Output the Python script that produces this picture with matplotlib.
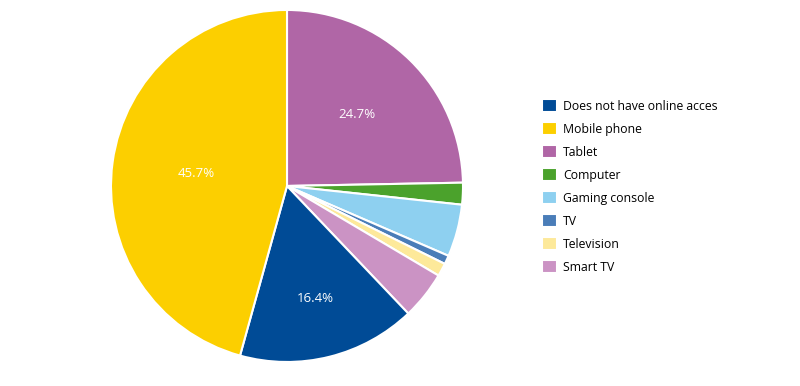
import matplotlib.pyplot as plt

# legend order
categories = ["Does not have online acces", "Mobile phone", "Tablet", "Computer",
              "Gaming console", "TV", "Television", "Smart TV"]
shares = [16.4, 45.7, 24.7, 2.0, 4.8, 0.8, 1.2, 4.4]
colors = ["#004b96", "#fccf00", "#b066a6", "#4ba22c",
          "#8ed0f0", "#4a7db8", "#fde99a", "#cb93c4"]

# clockwise from 12 o'clock
pie_order = [2, 3, 4, 5, 6, 7, 0, 1]
label_radius = {2: 0.57, 0: 0.66, 1: 0.52}

plt.rcParams['font.family'] = ['Open Sans', 'DejaVu Sans']

fig = plt.figure(figsize=(8, 3.86), dpi=100)
ax = fig.add_axes([0.13875, 0.0622, 0.44, 0.912])

vals = [shares[i] for i in pie_order]
cols = [colors[i] for i in pie_order]
wedges, texts, autotexts = ax.pie(
    vals, colors=cols, startangle=90, counterclock=False,
    autopct=lambda p: f"{p:.1f}%" if p > 10 else "", pctdistance=0.58,
    wedgeprops=dict(edgecolor="white", linewidth=1.5),
    textprops=dict(color="white", fontsize=9.5))

for k, i in enumerate(pie_order):
    if i in label_radius:
        x, y = autotexts[k].get_position()
        r = (x * x + y * y) ** 0.5
        s = label_radius[i] / r
        autotexts[k].set_position((x * s, y * s))

ax.set_xlim(-1, 1)
ax.set_ylim(-1, 1)
ax.set_aspect('equal')
ax.axis('off')

handles = [wedges[pie_order.index(i)] for i in range(len(categories))]
fig.legend(handles, categories, loc='upper left', bbox_to_anchor=(0.67, 0.76),
           frameon=False, fontsize=8.8, handlelength=1.2, handleheight=1.35,
           handletextpad=0.5, labelspacing=0.74, borderpad=0)

fig.savefig("out.png", dpi=100)
